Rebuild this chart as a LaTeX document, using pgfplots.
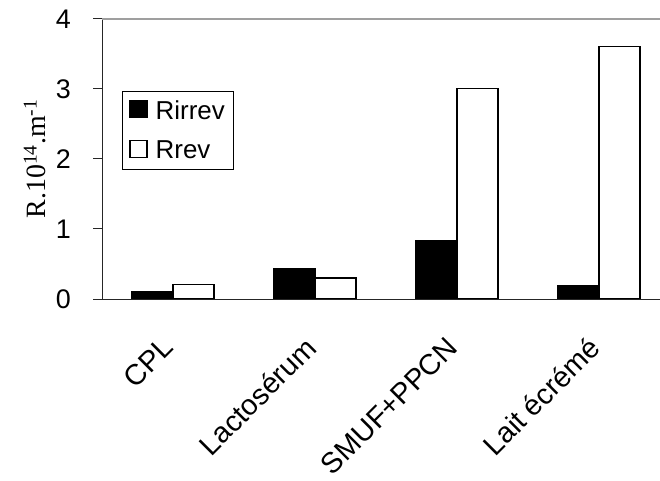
\documentclass[border=0pt]{standalone}
\usepackage{pgfplots}
\pgfplotsset{compat=1.18}
\usepackage{fontspec}
\setmainfont{Liberation Sans}
\newfontfamily\timesfont{Liberation Serif}
\begin{document}
\begin{tikzpicture}
\useasboundingbox (0,0) rectangle (660bp,481bp);
\begin{axis}[
 at={(102bp,182bp)}, anchor=south west,
 scale only axis, width=568bp, height=280bp,
 xmin=-0.5, xmax=3.5, ymin=0, ymax=4,
 axis x line=bottom, axis y line=left,
 axis line style={-, line width=1bp, black!85},
 ybar=0pt, bar width=41bp,
 ytick={0,1,2,3,4},
 tick align=outside, major tick length=9bp,
 tick style={black!85, line width=1bp},
 xtick={0,1,2,3},
 xticklabels={CPL, Lactosérum, SMUF+PPCN, Lait écrémé},
 x tick style={draw=none},
 extra x ticks={-0.5,0.5,1.5,2.5,3.5},
 extra x tick labels={},
 extra x tick style={tick style={draw=black!85, line width=1bp}},
 /pgf/number format/assume math mode=true,
 yticklabel style={font=\fontsize{27}{31}\selectfont, anchor=east, inner sep=0pt, xshift=-22bp},
 xticklabel style={font=\fontsize{29}{33}\selectfont, xshift=-12bp, yshift=-27bp, rotate=45, anchor=north east, inner sep=0pt},
 ylabel={\timesfont R.10\textsuperscript{14}.m\textsuperscript{-1}},
 ylabel style={at={(axis description cs:-0.118,0.5)}, anchor=center, font=\fontsize{28}{32}\selectfont},
 legend style={at={(axis description cs:0.0352,0.743)}, anchor=north west, draw=black, line width=0.8bp,
   font=\fontsize{26}{30}\selectfont, inner xsep=7bp, inner ysep=7bp, row sep=16bp},
 legend cell align=left,
 legend image code/.code={\draw[#1, line width=1.3bp] (4bp,-7bp) rectangle (21bp,10bp); \path (27bp,0bp);},
]
\addplot[fill=black, draw=black, line width=1.3bp] coordinates {(0,0.11) (1,0.43) (2,0.84) (3,0.19)};
\addplot[fill=white, draw=black, line width=1.3bp] coordinates {(0,0.21) (1,0.30) (2,3.01) (3,3.61)};
\legend{Rirrev, Rrev}
\draw[gray!75, line width=1.5bp] (axis cs:-0.5,4) -- (axis cs:3.5,4);
\end{axis}
\end{tikzpicture}
\end{document}
